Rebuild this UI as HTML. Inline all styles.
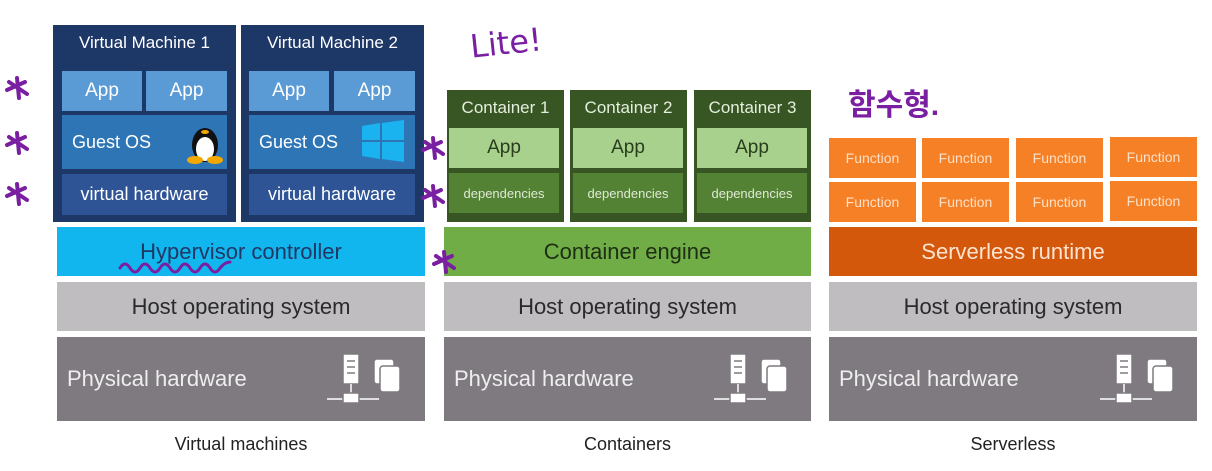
<!DOCTYPE html>
<html><head><meta charset="utf-8"><style>
body{margin:0;width:1212px;height:471px;background:#fff;position:relative;overflow:hidden;font-family:"Liberation Sans","Noto Sans CJK KR",sans-serif}
.b{position:absolute;display:flex;align-items:center;justify-content:center;box-sizing:border-box;color:#fff}
.t{position:absolute;color:#fff;text-align:center}
</style></head><body>
<!-- VM column -->
<div class="b" style="left:53px;top:25px;width:183px;height:197px;background:#1d3767;align-items:flex-start;padding-top:8px;font-size:17px">Virtual Machine 1</div>
<div class="b" style="left:241px;top:25px;width:183px;height:197px;background:#1d3767;align-items:flex-start;padding-top:8px;font-size:17px">Virtual Machine 2</div>
<div class="b" style="left:62px;top:71px;width:80px;height:40px;background:#5b9bd5;font-size:19px">App</div>
<div class="b" style="left:146px;top:71px;width:81px;height:40px;background:#5b9bd5;font-size:19px">App</div>
<div class="b" style="left:249px;top:71px;width:80px;height:40px;background:#5b9bd5;font-size:19px">App</div>
<div class="b" style="left:334px;top:71px;width:81px;height:40px;background:#5b9bd5;font-size:19px">App</div>
<div class="b" style="left:62px;top:115px;width:165px;height:54px;background:#2e75b6;font-size:18px;justify-content:flex-start;padding-left:10px">Guest OS</div>
<div class="b" style="left:249px;top:115px;width:166px;height:54px;background:#2e75b6;font-size:18px;justify-content:flex-start;padding-left:10px">Guest OS</div>
<svg style="position:absolute;left:186px;top:119px" width="38" height="45"><ellipse cx="19" cy="26" rx="13" ry="17" fill="#111"/><ellipse cx="19" cy="30" rx="9" ry="12" fill="#fff"/><ellipse cx="19" cy="13" rx="4" ry="2" fill="#f5a800"/><ellipse cx="9" cy="41" rx="8" ry="4" fill="#f5a800"/><ellipse cx="29" cy="41" rx="8" ry="4" fill="#f5a800"/></svg>
<svg style="position:absolute;left:362px;top:120px" width="42" height="42"><g fill="#1ab3f0"><path d="M0 6L18 3V20H0Z"/><path d="M20 3L42 0V20H20Z"/><path d="M0 22H18V39L0 36Z"/><path d="M20 22H42V42L20 39Z"/></g></svg>
<div class="b" style="left:62px;top:174px;width:165px;height:41px;background:#2f5496;font-size:18px">virtual hardware</div>
<div class="b" style="left:249px;top:174px;width:166px;height:41px;background:#2f5496;font-size:18px">virtual hardware</div>
<div class="b" style="left:57px;top:227px;width:368px;height:49px;background:#12b6ef;color:#1f3864;font-size:22px">Hypervisor controller</div>
<!-- Containers -->
<div class="b" style="left:447px;top:90px;width:117px;height:132px;background:#375623;align-items:flex-start;padding-top:8px;font-size:17px;color:#e4eedc">Container 1</div>
<div class="b" style="left:570px;top:90px;width:117px;height:132px;background:#375623;align-items:flex-start;padding-top:8px;font-size:17px;color:#e4eedc">Container 2</div>
<div class="b" style="left:694px;top:90px;width:117px;height:132px;background:#375623;align-items:flex-start;padding-top:8px;font-size:17px;color:#e4eedc">Container 3</div>
<div class="b" style="left:449px;top:128px;width:110px;height:40px;background:#a9d18e;color:#2a3d1c;font-size:19px">App</div>
<div class="b" style="left:573px;top:128px;width:110px;height:40px;background:#a9d18e;color:#2a3d1c;font-size:19px">App</div>
<div class="b" style="left:697px;top:128px;width:110px;height:40px;background:#a9d18e;color:#2a3d1c;font-size:19px">App</div>
<div class="b" style="left:449px;top:173px;width:110px;height:40px;background:#548235;font-size:13px;color:#dfe9d6">dependencies</div>
<div class="b" style="left:573px;top:173px;width:110px;height:40px;background:#548235;font-size:13px;color:#dfe9d6">dependencies</div>
<div class="b" style="left:697px;top:173px;width:110px;height:40px;background:#548235;font-size:13px;color:#dfe9d6">dependencies</div>
<div class="b" style="left:444px;top:227px;width:367px;height:49px;background:#70ad47;color:#1e2e14;font-size:22px">Container engine</div>
<!-- Serverless -->
<div class="b" style="left:829px;top:138px;width:87px;height:40px;background:#f58025;font-size:14px;color:#fde0c8">Function</div>
<div class="b" style="left:922px;top:138px;width:87px;height:40px;background:#f58025;font-size:14px;color:#fde0c8">Function</div>
<div class="b" style="left:1016px;top:138px;width:87px;height:40px;background:#f58025;font-size:14px;color:#fde0c8">Function</div>
<div class="b" style="left:1110px;top:137px;width:87px;height:40px;background:#f58025;font-size:14px;color:#fde0c8">Function</div>
<div class="b" style="left:829px;top:182px;width:87px;height:40px;background:#f58025;font-size:14px;color:#fde0c8">Function</div>
<div class="b" style="left:922px;top:182px;width:87px;height:40px;background:#f58025;font-size:14px;color:#fde0c8">Function</div>
<div class="b" style="left:1016px;top:182px;width:87px;height:40px;background:#f58025;font-size:14px;color:#fde0c8">Function</div>
<div class="b" style="left:1110px;top:181px;width:87px;height:40px;background:#f58025;font-size:14px;color:#fde0c8">Function</div>
<div class="b" style="left:829px;top:227px;width:368px;height:49px;background:#d4580c;font-size:22px;color:#fde3d0">Serverless runtime</div>
<!-- Host OS & Physical -->
<div class="b" style="left:57px;top:282px;width:368px;height:49px;background:#bfbdc0;color:#2a2a2a;font-size:22px">Host operating system</div>
<div class="b" style="left:444px;top:282px;width:367px;height:49px;background:#bfbdc0;color:#2a2a2a;font-size:22px">Host operating system</div>
<div class="b" style="left:829px;top:282px;width:368px;height:49px;background:#bfbdc0;color:#2a2a2a;font-size:22px">Host operating system</div>
<div class="b" style="left:57px;top:337px;width:368px;height:84px;background:#7f7a80;font-size:22px;justify-content:flex-start;padding-left:10px;color:#eee">Physical hardware</div>
<div class="b" style="left:444px;top:337px;width:367px;height:84px;background:#7f7a80;font-size:22px;justify-content:flex-start;padding-left:10px;color:#eee">Physical hardware</div>
<div class="b" style="left:829px;top:337px;width:368px;height:84px;background:#7f7a80;font-size:22px;justify-content:flex-start;padding-left:10px;color:#eee">Physical hardware</div>
<svg width="0" height="0" style="position:absolute"><defs><g id="srv" fill="#fff" stroke="#7f7a80" stroke-width="1.5"><rect x="16" y="2" width="16" height="30"/><line x1="20" y1="9" x2="28" y2="9"/><line x1="20" y1="15" x2="28" y2="15"/><line x1="20" y1="21" x2="28" y2="21"/><rect x="47" y="7" width="20" height="25" rx="3"/><rect x="53" y="14" width="20" height="26" rx="3"/><line x1="0" y1="47" x2="52" y2="47" stroke="#fff"/><line x1="24" y1="32" x2="24" y2="42" stroke="#fff"/><rect x="16" y="41" width="16" height="10"/></g></defs></svg>
<svg style="position:absolute;left:327px;top:352px" width="80" height="56"><use href="#srv"/></svg>
<svg style="position:absolute;left:714px;top:352px" width="80" height="56"><use href="#srv"/></svg>
<svg style="position:absolute;left:1100px;top:352px" width="80" height="56"><use href="#srv"/></svg>
<div class="t" style="left:57px;top:434px;width:368px;color:#222;font-size:18px">Virtual machines</div>
<div class="t" style="left:444px;top:434px;width:367px;color:#222;font-size:18px">Containers</div>
<div class="t" style="left:829px;top:434px;width:368px;color:#222;font-size:18px">Serverless</div>
<!-- annotations -->
<div class="t" style="left:470px;top:24px;color:#7a1fa2;font-size:32px;font-family:'DejaVu Sans',sans-serif;transform:rotate(-6deg)">Lite!</div>
<div class="t" style="left:848px;top:80px;color:#7a1fa2;font-size:30px;font-weight:bold">함수형.</div>
<svg style="position:absolute;left:0;top:0" width="1212" height="471" fill="none" stroke="#7a1fa2" stroke-width="4" stroke-linecap="round">
<defs><g id="st"><path d="M8 -10 L10 10 M-2 2 L16 -6 M0 -6 L18 6"/></g></defs>
<use href="#st" x="9" y="88"/><use href="#st" x="9" y="143"/><use href="#st" x="9" y="194"/>
<use href="#st" x="425" y="148"/><use href="#st" x="425" y="196"/><use href="#st" x="436" y="262"/>
<path d="M120 268 q5 -8 10 0 q5 8 10 0 q5 -8 10 0 q5 8 10 0 q5 -8 10 0 q5 8 10 0 q5 -8 10 0 q5 8 10 0 q5 -8 10 0 q5 8 10 0 q5 -6 10 -6" stroke-width="3"/>
</svg>
</body></html>
